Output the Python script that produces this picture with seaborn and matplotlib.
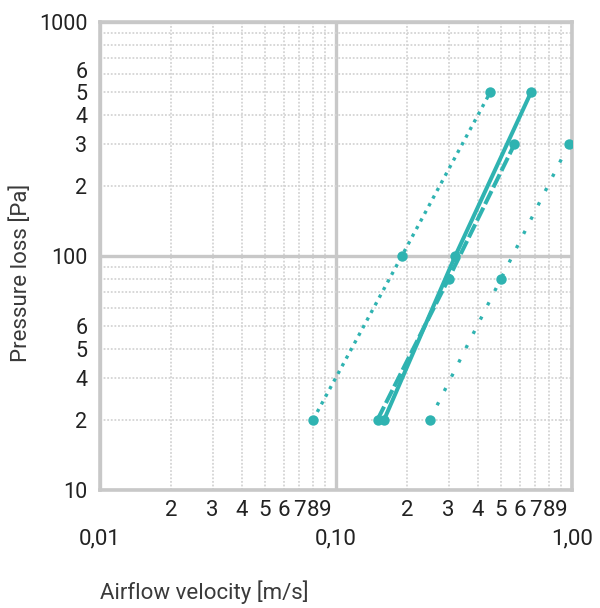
import numpy as np
import pandas as pd
import matplotlib
matplotlib.use('Agg')
import matplotlib.pyplot as plt
import seaborn as sns
import matplotlib.ticker as ticker
import matplotlib.transforms as mtransforms

# Valores (velocidade em m/s, perda de carga em Pa)
speed_fine_dot = [0.08, 0.19, 0.45]
pa_fine_dot = [20, 100, 500]
speed_solid = [0.16, 0.32, 0.67]
pa_solid = [20, 100, 500]
speed_dashed = [0.15, 0.30, 0.57]
pa_dashed = [20, 80, 300]
speed_sparse = [0.25, 0.50, 0.97]
pa_sparse = [20, 80, 300]

x_major = [0.01, 0.1, 1.0]
x_major_labels = ['0,01', '0,10', '1,00']
x_minor = [0.02, 0.03, 0.04, 0.05, 0.06, 0.07, 0.08, 0.09,
           0.2, 0.3, 0.4, 0.5, 0.6, 0.7, 0.8, 0.9]
x_minor_labels = ['2', '3', '4', '5', '6', '7', '8', '9'] * 2

y_major = [10, 100, 1000]
y_major_labels = ['10', '100', '1000']
y_minor = [20, 30, 40, 50, 60, 70, 80, 90,
           200, 300, 400, 500, 600, 700, 800, 900]
# os rotulos da decada inferior estao assim no original
y_minor_labels = ['2', '4', '5', '6', '', '', '', '',
                  '2', '3', '4', '5', '6', '', '', '']

TEAL = '#2fb3b1'
GRID = '#c8c8c8'
TXT = '#222222'

sns.set_theme(style='white')
plt.rcParams['font.family'] = ['Roboto', 'DejaVu Sans']

fig = plt.figure(figsize=(6, 6.08), dpi=100)
ax = fig.add_axes([100 / 600, 1 - 490 / 608, 472 / 600, 468 / 608])

series = [
    (speed_fine_dot, pa_fine_dot, (0, (1, 1.6)), 2.4),
    (speed_solid, pa_solid, '-', 2.9),
    (speed_dashed, pa_dashed, (0, (3.6, 1.0)), 2.9),
    (speed_sparse, pa_sparse, (0, (1, 3.8)), 2.4),
]
for xs, ys, ls, lw in series:
    df = pd.DataFrame({'v': xs, 'p': ys})
    sns.lineplot(data=df, x='v', y='p', ax=ax, color=TEAL, linewidth=lw,
                 linestyle=ls, marker='o', markersize=7.5, markeredgewidth=0,
                 dash_capstyle='butt', zorder=3)

ax.set_xscale('log')
ax.set_yscale('log')
ax.set_xlim(0.01, 1.0)
ax.set_ylim(10, 1000)

ax.xaxis.set_major_locator(ticker.FixedLocator(x_major))
ax.xaxis.set_major_formatter(ticker.FixedFormatter(x_major_labels))
ax.xaxis.set_minor_locator(ticker.FixedLocator(x_minor))
ax.xaxis.set_minor_formatter(ticker.FixedFormatter(x_minor_labels))
ax.yaxis.set_major_locator(ticker.FixedLocator(y_major))
ax.yaxis.set_major_formatter(ticker.FixedFormatter(y_major_labels))
ax.yaxis.set_minor_locator(ticker.FixedLocator(y_minor))
ax.yaxis.set_minor_formatter(ticker.FixedFormatter(y_minor_labels))

ax.tick_params(axis='x', which='minor', length=0, pad=7, labelsize=16, labelcolor=TXT)
ax.tick_params(axis='x', which='major', length=0, pad=28, labelsize=16, labelcolor=TXT)
ax.tick_params(axis='y', which='both', length=0, pad=9, labelsize=15.5, labelcolor=TXT)

# o "6" de cima fica um pouco acima da linha, como no original
tick6 = ax.yaxis.get_minor_ticks()[12]
tick6.label1.set_transform(tick6.label1.get_transform()
                           + mtransforms.ScaledTranslation(0, 4 / 100, fig.dpi_scale_trans))

ax.grid(which='major', color=GRID, linewidth=2.4, linestyle='-')
ax.grid(which='minor', color='#d4d4d4', linewidth=1.3, linestyle=(0, (1, 1)))

for s in ax.spines.values():
    s.set_color(GRID)
    s.set_linewidth(2.6)

ax.set_xlabel('Airflow velocity [m/s]', fontsize=16, color='#3a3a3a', loc='left')
ax.xaxis.set_label_coords(0, -0.193)
ax.set_ylabel('Pressure loss [Pa]', fontsize=16, color='#3a3a3a')
ax.yaxis.set_label_coords(-0.145, 0.465)

fig.savefig('out.png', dpi=100)
